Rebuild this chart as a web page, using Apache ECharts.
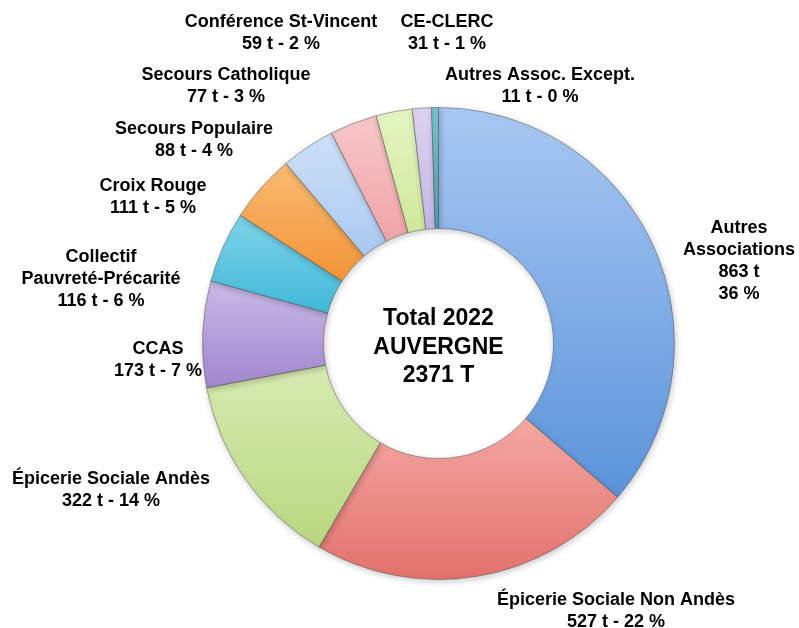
<!DOCTYPE html>
<html>
<head>
<meta charset="utf-8">
<script src="https://cdn.jsdelivr.net/npm/echarts@6/dist/echarts.min.js"></script>
<style>
html,body{margin:0;padding:0;background:#fff;}
#chart{width:799px;height:628px;}
</style>
</head>
<body>
<div id="chart"></div>
<script>
// ---- data ----
const categories = [
  'Autres\nAssociations',
  'Épicerie Sociale Non Andès',
  'Épicerie Sociale Andès',
  'CCAS',
  'Collectif\nPauvreté-Précarité',
  'Croix Rouge',
  'Secours Populaire',
  'Secours Catholique',
  'Conférence St-Vincent',
  'CE-CLERC',
  'Autres Assoc. Except.'
];
const tonnes = [863, 527, 322, 173, 116, 111, 88, 77, 59, 31, 11];
const percents = [36, 22, 14, 7, 6, 5, 4, 3, 2, 1, 0];
const centerTitle = ['Total 2022', 'AUVERGNE', '2371 T'];

// ---- styling / layout (not data) ----
const colorsTop = ['#a9c8f2','#f4a8a3','#d8ebb3','#cbbbe8','#7fd4ea','#f9bb73','#cfe1f8','#f8c8cb','#e6f5c4','#ddd3f2','#7cc3cd'];
const colorsBot = ['#5b93da','#e2716c','#b8d77f','#a086cd','#3fb8d6','#f29436','#a9c9f0','#f0a3a8','#cfe99c','#c6b8e6','#4a9fac'];
const labelPos = [
  [739, 261], [616, 611], [111, 490], [158, 360], [101, 279],
  [153, 197], [194, 140], [226, 86], [281, 33], [447, 33], [540, 86]
];
const CX = 438.5, CY = 343.5;

const chart = echarts.init(document.getElementById('chart'), null, {renderer: 'canvas'});

const pieData = categories.map((name, i) => ({
  name: name,
  value: tonnes[i],
  itemStyle: {
    color: new echarts.graphic.LinearGradient(0, 0, 0, 1, [
      {offset: 0, color: colorsTop[i]},
      {offset: 1, color: colorsBot[i]}
    ])
  }
}));

function labelText(i) {
  const n = categories[i];
  if (i === 0) return n + '\n' + tonnes[i] + ' t\n' + percents[i] + ' %';
  return n + '\n' + tonnes[i] + ' t - ' + percents[i] + ' %';
}

chart.setOption({
  animation: false,
  backgroundColor: '#ffffff',
  series: [{
    type: 'pie',
    center: [CX, CY],
    radius: [115, 236],
    startAngle: 90,
    clockwise: true,
    avoidLabelOverlap: false,
    data: pieData,
    itemStyle: {
      borderColor: 'rgba(70,70,70,0.55)',
      borderWidth: 0.8,
      shadowBlur: 6,
      shadowColor: 'rgba(0,0,0,0.22)',
      shadowOffsetX: 1,
      shadowOffsetY: 2
    },
    label: {
      show: true,
      position: 'outside',
      formatter: p => labelText(p.dataIndex),
      fontFamily: 'Liberation Sans, Arial, sans-serif',
      fontWeight: 'bold',
      fontSize: 18,
      lineHeight: 22,
      color: '#000',
      align: 'center'
    },
    labelLine: {show: false},
    labelLayout: function (params) {
      const p = labelPos[params.dataIndex];
      return {x: p[0], y: p[1], align: 'center', verticalAlign: 'middle'};
    },
    emphasis: {disabled: true}
  }],
  graphic: [{
    type: 'text',
    x: CX,
    y: CY + 4,
    style: {
      text: centerTitle.join('\n'),
      align: 'center',
      verticalAlign: 'middle',
      fontFamily: 'Liberation Sans, Arial, sans-serif',
      fontWeight: 'bold',
      fontSize: 23,
      lineHeight: 28.5,
      fill: '#000'
    }
  }]
});
</script>
</body>
</html>
